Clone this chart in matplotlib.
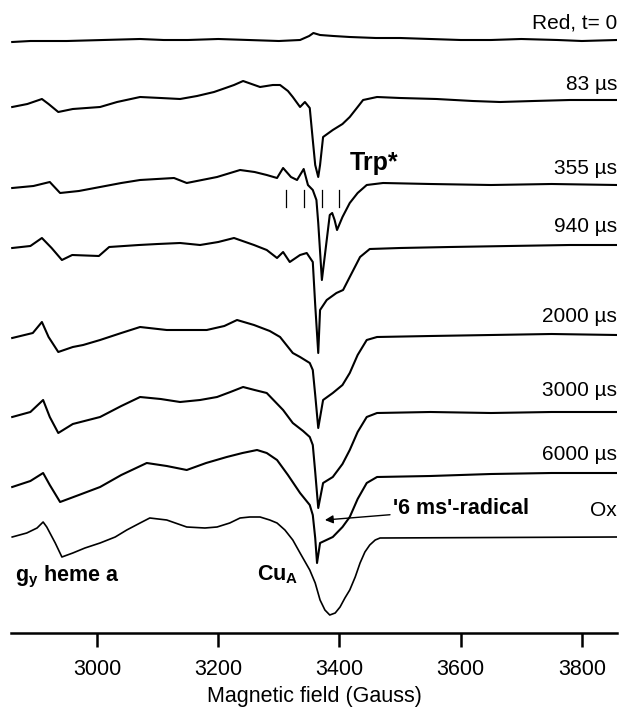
import numpy as np
import matplotlib.pyplot as plt
plt.switch_backend('agg')

plt.rcParams['font.family'] = ['Liberation Sans', 'DejaVu Sans']
plt.rcParams['mathtext.fontset'] = 'custom'
plt.rcParams['mathtext.rm'] = 'Liberation Sans'
plt.rcParams['mathtext.bf'] = 'Liberation Sans:bold'

# EPR spectra, field in Gauss, intensity in arbitrary units (baseline = 0)
labels = ['Red, t= 0', '83 µs', '355 µs', '940 µs', '2000 µs', '3000 µs', '6000 µs', 'Ox']

red_field = [2860, 2890, 2950, 3010, 3071, 3110, 3150, 3200, 3250, 3300, 3335, 3350, 3357,
             3368, 3390, 3417, 3460, 3500, 3550, 3600, 3650, 3700, 3760, 3800, 3858]
red_int = [-2, -1, -1, 0, 1, 0, 0, 1, 0, -1, 0, 4, 7,
           5, 4, 3, 2, 2, 1, 0, 0, 1, 0, -1, 0]

s83_field = [2860, 2885, 2909, 2920, 2936, 2960, 3005, 3033, 3071, 3105, 3137, 3165, 3193,
             3212, 3226, 3241, 3255, 3269, 3290, 3302, 3315, 3323,
             3335, 3343, 3351, 3356, 3360, 3365, 3368, 3373, 3389, 3405, 3417, 3430, 3439,
             3462, 3500, 3560, 3620, 3665, 3720, 3780, 3858]
s83_int = [-7, -4, 1, -4, -12, -9, -7, -2, 3, 2, 1, 4, 8,
           12, 15, 19, 16, 13, 15, 15, 9, 3,
           -7, -2, -8, -40, -65, -77, -65, -37, -30, -24, -17, -7, 0,
           3, 2, 1, -1, -2, -1, 0, 0]

s355_field = [2860, 2895, 2922, 2939, 2970, 3005, 3040, 3071, 3127, 3148, 3198, 3236, 3260,
              3280, 3297, 3307, 3320, 3330, 3341, 3348, 3356, 3362, 3365, 3371, 3375, 3379,
              3384, 3388, 3392, 3396, 3405, 3417, 3430, 3445, 3472, 3550, 3650, 3750, 3858]
s355_int = [-3, -1, 3, -8, -6, -2, 2, 5, 7, 2, 8, 15, 13,
            10, 7, 17, 8, 5, 16, 0, -5, -15, -38, -95, -75, -55,
            -30, -28, -35, -45, -32, -18, -8, 0, 2, 1, 0, 1, 0]

s940_field = [2860, 2890, 2909, 2925, 2942, 2959, 3003, 3020, 3069, 3100, 3137, 3170, 3200,
              3226, 3259, 3280, 3297, 3307, 3318, 3335, 3346, 3356, 3360, 3365, 3368, 3379,
              3395, 3406, 3417, 3434, 3450, 3500, 3582, 3680, 3780, 3858]
s940_int = [-3, -1, 7, -3, -15, -10, -11, -2, 0, 1, 2, 0, 3,
            7, 0, -5, -13, -7, -17, -10, -8, -17, -60, -108, -65, -55,
            -48, -45, -32, -12, -4, -3, -2, -1, 0, 0]

s2000_field = [2860, 2894, 2909, 2920, 2936, 2960, 2977, 3005, 3040, 3071, 3115, 3150, 3181,
               3210, 3231, 3259, 3285, 3302, 3323, 3335, 3351, 3356, 3360, 3365, 3373, 3389,
               3405, 3417, 3430, 3445, 3462, 3550, 3650, 3750, 3858]
s2000_int = [-3, 2, 13, -2, -17, -12, -10, -5, 2, 8, 5, 5, 5,
             9, 15, 10, 4, -2, -18, -22, -28, -35, -60, -93, -65, -58,
             -50, -38, -20, -5, -2, -1, 0, 1, 0]

s3000_field = [2860, 2890, 2911, 2922, 2936, 2960, 3005, 3040, 3071, 3105, 3137, 3170, 3198,
               3220, 3241, 3260, 3280, 3307, 3323, 3340, 3351, 3356, 3360, 3365, 3373, 3389,
               3405, 3417, 3430, 3445, 3462, 3550, 3650, 3750, 3858]
s3000_int = [-5, 0, 12, -5, -21, -12, -5, 6, 15, 13, 10, 12, 15,
             20, 25, 22, 19, 2, -11, -19, -25, -33, -60, -96, -71, -65,
             -52, -38, -20, -5, -1, 0, -1, 0, 0]

s6000_field = [2860, 2890, 2911, 2922, 2939, 2970, 3005, 3040, 3082, 3115, 3148, 3180, 3214,
               3240, 3264, 3280, 3297, 3315, 3335, 3351, 3356, 3360, 3363, 3368, 3389, 3405,
               3417, 3430, 3445, 3462, 3550, 3650, 3750, 3858]
s6000_int = [-14, -8, 0, -12, -29, -22, -14, -2, 10, 7, 3, 10, 16,
             20, 23, 20, 13, -2, -20, -32, -42, -65, -90, -70, -64, -54,
             -44, -26, -10, -4, -3, -1, 0, 0]

ox_field = [2860, 2884, 2901, 2911, 2917, 2931, 2942, 2960, 2980, 3005, 3030, 3049, 3071,
            3087, 3115, 3148, 3178, 3198, 3219, 3236, 3252, 3269, 3285, 3297, 3310, 3323,
            3335, 3351, 3360, 3368, 3376, 3384, 3393, 3401, 3409, 3417, 3426, 3434, 3442,
            3450, 3459, 3467, 3858]
ox_int = [0, 4, 9, 15, 10, -6, -20, -16, -11, -6, 0, 7, 14,
          19, 17, 10, 9, 10, 14, 19, 20, 20, 17, 14, 7, -3,
          -16, -33, -46, -63, -73, -78, -76, -70, -61, -53, -40, -26, -15,
          -8, -3, -1, 0]

spectra = [(red_field, red_int), (s83_field, s83_int), (s355_field, s355_int),
           (s940_field, s940_int), (s2000_field, s2000_int), (s3000_field, s3000_int),
           (s6000_field, s6000_int), (ox_field, ox_int)]

# Trp radical hyperfine line positions (Gauss)
trp_lines = [3312, 3342, 3371, 3399]

# vertical stacking of the traces
offsets = [593, 533, 448, 388, 298, 221, 160, 96]

fig = plt.figure(figsize=(6.22, 7.11), dpi=100)
ax = fig.add_axes([11/622, 78/711, 606/622, 633/711])

for i, ((f, y), off) in enumerate(zip(spectra, offsets)):
    lw = 1.2 if i == len(spectra) - 1 else 1.5
    ax.plot(f, np.array(y) + off, color='black', lw=lw)

label_y = [610, 548, 465, 406, 316, 243, 178, 123]
for lab, ly in zip(labels, label_y):
    ax.text(3858, ly, lab, ha='right', va='center', fontsize=15)

# Trp* markers
for f in trp_lines:
    ax.plot([f, f], [426, 443], color='black', lw=0.9)
ax.text(3417, 470, 'Trp*', fontsize=18, fontweight='bold', va='center')

ax.annotate("'6 ms'-radical", xy=(3376, 113), xytext=(3488, 124),
            fontsize=15.5, fontweight='bold', va='center',
            arrowprops=dict(arrowstyle='-|>', color='black', lw=1, mutation_scale=12,
                            shrinkA=0, shrinkB=0))
ax.text(2865, 56, r'$\mathbf{g_y}$ heme a', fontsize=15.5, fontweight='bold', va='center')
ax.text(3264, 58, r'$\mathbf{Cu_A}$', fontsize=15.5, fontweight='bold', va='center')

ax.set_xlim(2858, 3858)
ax.set_ylim(0, 633)
ax.set_xticks([3000, 3200, 3400, 3600, 3800])
ax.tick_params(axis='x', length=10, width=1.8, labelsize=15.5, pad=9)
ax.set_yticks([])
for s in ['left', 'right', 'top']:
    ax.spines[s].set_visible(False)
ax.spines['bottom'].set_linewidth(1.8)
ax.set_xlabel('Magnetic field (Gauss)', fontsize=15.5, labelpad=4)

plt.savefig('out.png', dpi=100)
